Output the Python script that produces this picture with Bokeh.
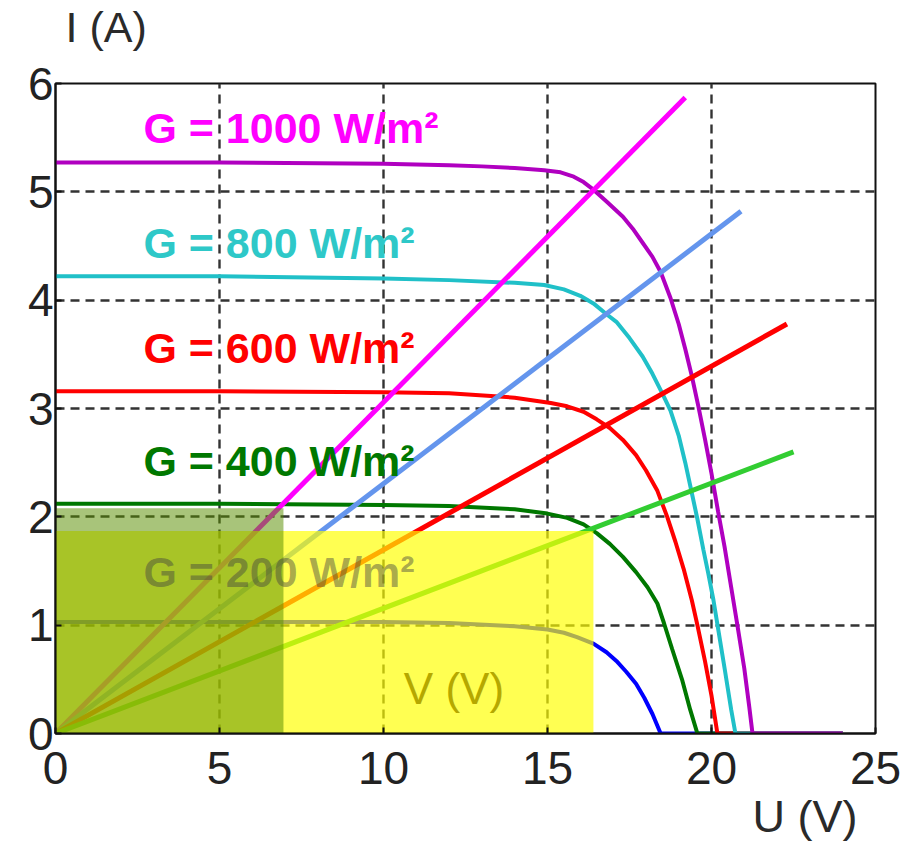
from bokeh.plotting import figure
from bokeh.models import Range1d, Label, Title
from bokeh.embed import file_html
from bokeh.resources import INLINE

# ---- data ----
g1000_v = [0, 5, 10, 12, 13, 14, 14.9, 15.4, 15.8, 16.1, 16.4, 16.8, 17.3, 17.6, 17.9, 18.2, 18.45, 18.75,
           19.0, 19.2, 19.4, 19.6, 19.8, 20.0, 20.2, 20.4, 20.6, 20.8, 21.0, 21.15, 21.25, 24.0]
g1000_i = [5.27, 5.27, 5.26, 5.245, 5.235, 5.22, 5.2, 5.18, 5.14, 5.09, 5.02, 4.91, 4.77, 4.66, 4.53, 4.4, 4.26, 4.02,
           3.78, 3.55, 3.3, 3.02, 2.72, 2.4, 2.05, 1.72, 1.35, 0.98, 0.6, 0.25, 0, 0]

g800_v = [0, 5, 10, 12, 14, 14.9, 15.5, 16.0, 16.4, 16.8, 17.1, 17.5, 17.9, 18.2, 18.5, 18.75, 19.0, 19.2,
          19.4, 19.57, 19.75, 19.9, 20.06, 20.2, 20.4, 20.6, 20.73, 24.0]
g800_i = [4.22, 4.22, 4.2, 4.185, 4.16, 4.14, 4.1, 4.04, 3.97, 3.87, 3.8, 3.65, 3.48, 3.32, 3.14, 2.98, 2.75, 2.5,
          2.22, 1.98, 1.7, 1.48, 1.23, 0.97, 0.6, 0.22, 0, 0]

g600_v = [0, 5, 10, 12, 14, 15.1, 15.6, 16.1, 16.5, 16.9, 17.3, 17.7, 18.0, 18.35, 18.65, 18.9, 19.15, 19.4,
          19.57, 19.8, 20.0, 20.18, 24.0]
g600_i = [3.16, 3.16, 3.15, 3.14, 3.1, 3.05, 3.02, 2.97, 2.9, 2.82, 2.71, 2.57, 2.43, 2.24, 2.0, 1.77, 1.52, 1.23,
          1.0, 0.67, 0.35, 0, 0]

g400_v = [0, 5, 10, 12, 14, 15.0, 15.6, 16.1, 16.5, 16.9, 17.3, 17.7, 18.05, 18.35, 18.55, 18.8, 19.1, 19.35, 19.57, 24.0]
g400_i = [2.12, 2.12, 2.11, 2.1, 2.07, 2.03, 1.99, 1.93, 1.85, 1.75, 1.63, 1.49, 1.35, 1.2, 1.02, 0.78, 0.5, 0.22, 0, 0]

g200_v = [0, 5, 10, 12, 14, 15, 15.5, 15.9, 16.4, 16.8, 17.1, 17.4, 17.7, 17.95, 18.2, 18.45, 24.0]
g200_i = [1.03, 1.03, 1.03, 1.02, 0.99, 0.96, 0.93, 0.89, 0.83, 0.75, 0.67, 0.57, 0.46, 0.33, 0.18, 0, 0]

# load lines (from origin to end point)
load_v0 = [0, 0, 0, 0]
load_i0 = [0, 0, 0, 0]
load_v1 = [19.2, 20.9, 22.3, 22.5]
load_i1 = [5.87, 4.82, 3.78, 2.6]
load_colors = ["#ff00ff", "#6495ed", "#ff0000", "#32cd32"]

# shaded rectangles
yellow_box = dict(left=0, right=16.4, bottom=0, top=1.87)
olive_box = dict(left=0, right=6.95, bottom=0, top=2.08)

x_ticks = [0, 5, 10, 15, 20, 25]
y_ticks = [0, 1, 2, 3, 4, 5, 6]

g_labels = ["G = 1000 W/m\u00b2", "G = 800 W/m\u00b2", "G = 600 W/m\u00b2", "G = 400 W/m\u00b2", "G = 200 W/m\u00b2"]
g_label_y = [5.586, 4.525, 3.555, 2.52, 1.488]
g_label_colors = ["#ff00ff", "#2ec8c8", "#ff0000", "#007800", "#404040"]
g_label_alpha = [1, 1, 1, 1, 0.45]

FONT = "Liberation Sans"

p = figure(frame_width=820, frame_height=650,
           x_range=Range1d(0, 25), y_range=Range1d(0, 6),
           output_backend="svg", toolbar_location=None,
           min_border_left=55, min_border_top=83, min_border_right=30, min_border_bottom=100)

p.background_fill_color = "white"
p.border_fill_color = "white"
p.outline_line_color = "#111111"
p.outline_line_width = 2

p.xaxis.ticker = x_ticks
p.yaxis.ticker = y_ticks
for ax in (p.xaxis, p.yaxis):
    ax.axis_line_color = "#111111"
    ax.axis_line_width = 2
    ax.major_tick_out = 0
    ax.major_tick_in = 6
    ax.major_tick_line_color = "#111111"
    ax.major_tick_line_width = 2
    ax.minor_tick_line_color = None
    ax.major_label_text_font = FONT
    ax.major_label_text_font_size = "46px"
    ax.major_label_text_color = "#222222"
p.xaxis.major_label_standoff = 18
p.yaxis.major_label_standoff = 2

p.grid.grid_line_color = "#333333"
p.grid.grid_line_dash = "9 6"
p.grid.grid_line_width = 2.4

# I-V curves
p.line(g200_v, g200_i, line_color="#0000ff", line_width=4)
p.line(g400_v, g400_i, line_color="#007800", line_width=4)
p.line(g600_v, g600_i, line_color="#ff0000", line_width=4)
p.line(g800_v, g800_i, line_color="#20c0c8", line_width=4)
p.line(g1000_v, g1000_i, line_color="#b000c0", line_width=4)

# load lines
p.segment(x0=load_v0, y0=load_i0, x1=load_v1, y1=load_i1, line_color=load_colors, line_width=5)

# overlays
p.quad(**yellow_box, fill_color="#ffff00", fill_alpha=0.68, line_color=None)
p.quad(**olive_box, fill_color="#588e00", fill_alpha=0.52, line_color=None)

# labels
for txt, yy, col, al in zip(g_labels, g_label_y, g_label_colors, g_label_alpha):
    p.add_layout(Label(x=2.68, y=yy, text=txt, text_font=FONT, text_font_size="43px",
                       text_font_style="bold", text_color=col, text_alpha=al,
                       text_baseline="alphabetic", text_align="left"))

p.add_layout(Label(x=10.62, y=0.417, text="V (V)", text_font=FONT, text_font_size="44px",
                   text_color="#b5a800", text_baseline="alphabetic"))

# spacer between frame and the y-axis caption, then the caption itself
p.add_layout(Title(text=" ", text_font_size="1px", standoff=28, text_color="white"), "above")
p.add_layout(Title(text="I (A)", align="left", offset=10, standoff=0, vertical_align="top",
                   text_font=FONT, text_font_size="43px", text_font_style="normal",
                   text_color="#2a2a2a"), "above")
p.add_layout(Title(text="U (V)", align="right", offset=18, standoff=5,
                   text_font=FONT, text_font_size="45px", text_font_style="normal",
                   text_color="#2a2a2a"), "below")

open("out.html", "w").write(file_html(p, INLINE))
